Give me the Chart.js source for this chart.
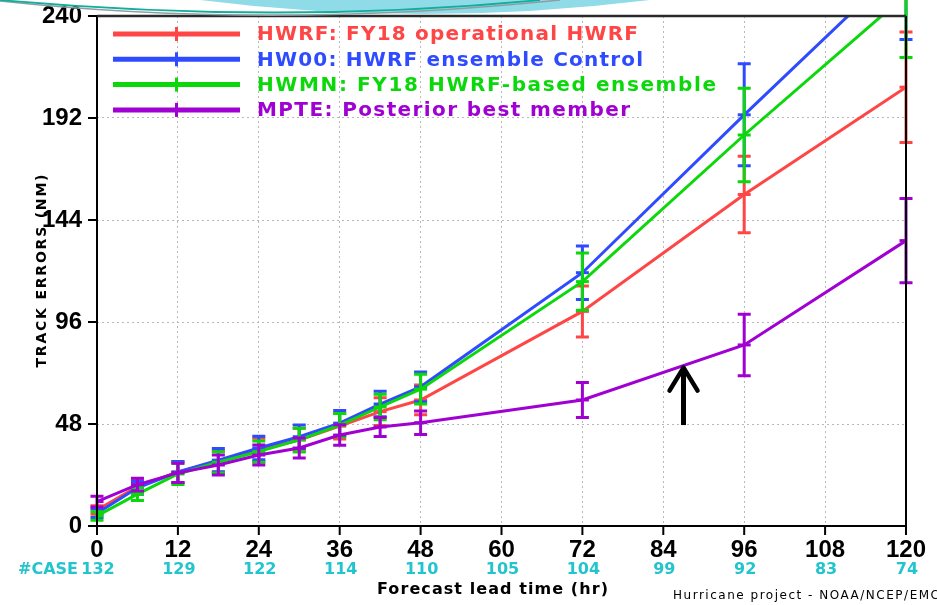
<!DOCTYPE html>
<html>
<head>
<meta charset="utf-8">
<title>Track errors</title>
<script src="https://cdn.jsdelivr.net/npm/chart.js@4.4.1/dist/chart.umd.min.js"></script>
<style>
html, body { margin: 0; padding: 0; background: #ffffff; }
canvas { display: block; }
</style>
</head>
<body>
<canvas id="chart" width="937" height="605"></canvas>
<script>
// Forecast lead times (hr) at which track errors are verified
const leadTimes = [0, 6, 12, 18, 24, 30, 36, 42, 48, 72, 96, 120];

// Mean track errors (NM)
const hwrfErrors = [7.5, 18.5, 25.4, 30.3, 35.8, 40.5, 47, 53.8, 59.3, 101, 156, 206.5];
const hw00Errors = [6, 18, 25.4, 31, 36.7, 42, 48.4, 57.4, 65.5, 119.2, 193.5, 266];
const hwmnErrors = [4.7, 15, 24.5, 30, 35, 40.5, 47.5, 56, 64.4, 115, 184, 250];
const mpteErrors = [11.5, 19.5, 25, 28.7, 33.4, 36.7, 42.8, 46.6, 48.6, 59.3, 85.2, 134.3];

// Half-widths of the confidence bars (NM)
const hwrfBars = [2, 3, 5, 5, 5.5, 5.5, 6, 6.5, 7, 12, 18, 26];
const hw00Bars = [2, 3, 5, 5.5, 5.5, 5.5, 6, 6, 7, 12.6, 24, 37];
const hwmnBars = [2, 3, 5, 5, 5, 5.5, 5.5, 6, 7, 13.5, 22, 29.5];
const mpteBars = [2.5, 3, 4.5, 4.7, 4.7, 4.7, 4.8, 4.5, 5.5, 8.2, 14.5, 19.8];

// Series names and colours
const seriesNames = [
  'HWRF: FY18 operational HWRF',
  'HW00: HWRF ensemble Control',
  'HWMN: FY18 HWRF-based ensemble',
  'MPTE: Posterior best member'
];
const seriesColors = ['#ff4646', '#2f4bff', '#0bd80b', '#a000d2'];

// Number of verified cases per lead time
const caseHours = [0, 12, 24, 36, 48, 60, 72, 84, 96, 108, 120];
const caseCounts = [132, 129, 122, 114, 110, 105, 104, 99, 92, 83, 74];

// Axis tick values
const xTickValues = [0, 12, 24, 36, 48, 60, 72, 84, 96, 108, 120];
const yTickValues = [0, 48, 96, 144, 192, 240];

// Arrow pointing at the MPTE curve (hour, tip value, tail value)
const arrowHour = 87;
const arrowTip = 75.5;
const arrowTail = 47.5;

const seriesValues = [hwrfErrors, hw00Errors, hwmnErrors, mpteErrors];
const seriesBars = [hwrfBars, hw00Bars, hwmnBars, mpteBars];

const datasets = seriesNames.map((name, s) => ({
  label: name,
  data: leadTimes.map((h, i) => ({ x: h, y: seriesValues[s][i] })),
  errorBars: seriesBars[s],
  borderColor: seriesColors[s],
  backgroundColor: seriesColors[s],
  borderWidth: 3,
  pointStyle: 'line',
  pointRadius: 6.5,
  pointBorderWidth: 3,
  pointBorderColor: seriesColors[s],
  pointHoverRadius: 6.5,
  tension: 0,
  order: seriesNames.length - s   // later series are painted on top
}));

// Draw text stretched to a given width through letter spacing
function spacedText(ctx, text, x, y, width, align) {
  ctx.letterSpacing = '0px';
  const natural = ctx.measureText(text).width;
  const gap = text.length > 1 ? (width - natural) / (text.length - 1) : 0;
  ctx.letterSpacing = gap + 'px';
  ctx.textAlign = 'left';
  let startX = x;
  if (align === 'center') startX = x - width / 2;
  ctx.fillText(text, startX, y);
  ctx.letterSpacing = '0px';
}

const decorations = {
  id: 'decorations',
  afterDatasetDraw(chart, args) {
    const ds = chart.data.datasets[args.index];
    const meta = args.meta;
    const yScale = chart.scales.y;
    const ctx = chart.ctx;
    ctx.save();
    ctx.strokeStyle = ds.borderColor;
    ctx.lineWidth = 3;
    ctx.lineCap = 'butt';
    meta.data.forEach((pt, i) => {
      const v = ds.data[i].y;
      const e = ds.errorBars[i];
      const yTop = yScale.getPixelForValue(v + e);
      const yBot = yScale.getPixelForValue(v - e);
      ctx.beginPath();
      ctx.moveTo(pt.x, yTop);
      ctx.lineTo(pt.x, yBot);
      ctx.moveTo(pt.x - 6.5, yTop);
      ctx.lineTo(pt.x + 6.5, yTop);
      ctx.moveTo(pt.x - 6.5, yBot);
      ctx.lineTo(pt.x + 6.5, yBot);
      ctx.stroke();
    });
    ctx.restore();
  },
  afterDraw(chart) {
    const ctx = chart.ctx;
    const a = chart.chartArea;
    const xs = chart.scales.x;
    const ys = chart.scales.y;
    ctx.save();

    // plot frame
    ctx.strokeStyle = '#000';
    ctx.lineWidth = 2;
    ctx.beginPath();
    ctx.moveTo(a.left, a.top);
    ctx.lineTo(a.left, a.bottom);
    ctx.lineTo(a.right, a.bottom);
    ctx.lineTo(a.right, a.top);
    ctx.stroke();
    ctx.strokeStyle = '#2a2a2a';
    ctx.lineWidth = 2.5;
    ctx.beginPath();
    ctx.moveTo(a.left, a.top);
    ctx.lineTo(a.right, a.top);
    ctx.stroke();

    // tick marks
    ctx.strokeStyle = '#000';
    ctx.lineWidth = 2;
    ctx.beginPath();
    yTickValues.forEach(v => {
      const y = ys.getPixelForValue(v);
      ctx.moveTo(a.left - 9, y);
      ctx.lineTo(a.left, y);
    });
    xTickValues.forEach(v => {
      const x = xs.getPixelForValue(v);
      ctx.moveTo(x, a.bottom);
      ctx.lineTo(x, a.bottom + 9);
    });
    ctx.stroke();

    // legend
    chart.data.datasets.forEach((ds, i) => {
      const rowY = a.top + 18 + i * 25.3;
      const x0 = a.left + 16;
      const x1 = a.left + 143;
      const xm = (x0 + x1) / 2;
      ctx.strokeStyle = ds.borderColor;
      ctx.lineWidth = 5;
      ctx.beginPath();
      ctx.moveTo(x0, rowY);
      ctx.lineTo(x1, rowY);
      ctx.stroke();
      ctx.lineWidth = 3;
      ctx.beginPath();
      ctx.moveTo(xm, rowY - 7);
      ctx.lineTo(xm, rowY + 7);
      ctx.stroke();
      ctx.fillStyle = ds.borderColor;
      ctx.font = 'bold 20px "DejaVu Sans"';
      ctx.textBaseline = 'middle';
      const widths = [381, 386, 459, 373];
      spacedText(ctx, ds.label, a.left + 160, rowY + 1, widths[i], 'left');
    });

    // case counts
    ctx.fillStyle = '#22c4cd';
    ctx.font = 'bold 16px "DejaVu Sans"';
    ctx.textBaseline = 'middle';
    ctx.textAlign = 'right';
    ctx.fillText('#CASE', 78, 570);
    ctx.textAlign = 'center';
    caseHours.forEach((h, i) => {
      ctx.fillText(String(caseCounts[i]), xs.getPixelForValue(h) + 1, 570);
    });

    // axis titles
    ctx.fillStyle = '#000';
    ctx.font = 'bold 16px "DejaVu Sans"';
    ctx.textBaseline = 'middle';
    spacedText(ctx, 'Forecast lead time (hr)', 492.5, 590, 231, 'center');

    ctx.save();
    ctx.translate(42, 271);
    ctx.rotate(-Math.PI / 2);
    ctx.font = 'bold 14px "DejaVu Sans"';
    ctx.textBaseline = 'middle';
    spacedText(ctx, 'TRACK ERRORS (NM)', 0, 0, 193, 'center');
    ctx.restore();

    ctx.fillStyle = '#000';
    ctx.font = '12px "DejaVu Sans"';
    ctx.textBaseline = 'middle';
    spacedText(ctx, 'Hurricane project - NOAA/NCEP/EMC', 673, 596, 266, 'left');

    // arrow marking the MPTE curve
    const ax = xs.getPixelForValue(arrowHour);
    const tipY = ys.getPixelForValue(arrowTip);
    const tailY = ys.getPixelForValue(arrowTail);
    ctx.strokeStyle = '#000';
    ctx.lineWidth = 5;
    ctx.lineCap = 'butt';
    ctx.beginPath();
    ctx.moveTo(ax, tailY);
    ctx.lineTo(ax, tipY + 3);
    ctx.stroke();
    ctx.lineCap = 'round';
    ctx.lineJoin = 'round';
    ctx.lineWidth = 4.5;
    ctx.beginPath();
    ctx.moveTo(ax - 14, tipY + 25);
    ctx.lineTo(ax, tipY + 2);
    ctx.lineTo(ax + 14, tipY + 25);
    ctx.stroke();

    // slide swoosh along the top edge
    ctx.fillStyle = '#8fdbe8';
    ctx.beginPath();
    ctx.moveTo(200, 0);
    ctx.quadraticCurveTo(420, 28, 650, 0);
    ctx.closePath();
    ctx.fill();
    ctx.lineCap = 'butt';
    ctx.strokeStyle = '#8c9ea2';
    ctx.lineWidth = 1.5;
    ctx.beginPath();
    ctx.moveTo(0, 1);
    ctx.quadraticCurveTo(270, 30, 560, 0);
    ctx.stroke();
    ctx.strokeStyle = '#13ad9c';
    ctx.lineWidth = 1.8;
    ctx.beginPath();
    ctx.moveTo(0, 0);
    ctx.quadraticCurveTo(280, 25, 540, 0);
    ctx.stroke();

    ctx.restore();
  }
};

const tickFont = { family: '"Liberation Sans"', weight: 'bold', size: 24 };

new Chart(document.getElementById('chart'), {
  type: 'line',
  data: { datasets },
  options: {
    responsive: false,
    animation: false,
    devicePixelRatio: 1,
    layout: { padding: { top: 16, right: 31, left: 0, bottom: 0 } },
    plugins: { legend: { display: false }, tooltip: { enabled: false } },
    scales: {
      x: {
        type: 'linear',
        min: 0,
        max: 120,
        afterBuildTicks: s => { s.ticks = xTickValues.map(v => ({ value: v })); },
        afterFit: s => { s.height = 79; s.paddingLeft = 0; s.paddingRight = 0; },
        grid: { color: '#b8b8b8', lineWidth: 1, drawTicks: false },
        border: { display: false, dash: [2, 3] },
        ticks: { font: tickFont, color: '#000', padding: 10, maxRotation: 0, autoSkip: false,
                 callback: v => String(v) }
      },
      y: {
        type: 'linear',
        min: 0,
        max: 240,
        afterBuildTicks: s => { s.ticks = yTickValues.map(v => ({ value: v })); },
        afterFit: s => { s.width = 97; s.paddingTop = 0; s.paddingBottom = 0; },
        grid: { color: '#b8b8b8', lineWidth: 1, drawTicks: false },
        border: { display: false, dash: [2, 3] },
        ticks: { font: tickFont, color: '#000', padding: 15, callback: v => String(v) }
      }
    }
  },
  plugins: [decorations]
});
</script>
</body>
</html>
